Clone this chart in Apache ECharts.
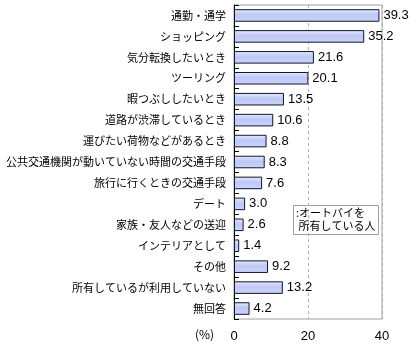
<!DOCTYPE html>
<html>
<head>
<meta charset="utf-8">
<script src="https://cdn.jsdelivr.net/npm/echarts@6/dist/echarts.min.js"></script>
<style>
  html, body { margin: 0; padding: 0; background: #fff; }
  #chart { width: 410px; height: 350px; }
</style>
</head>
<body>
<div id="chart"></div>
<script>
// Uses of motorcycles among owners (%)
const categories = [
  '通勤・通学',
  'ショッピング',
  '気分転換したいとき',
  'ツーリング',
  '暇つぶししたいとき',
  '道路が渋滞しているとき',
  '運びたい荷物などがあるとき',
  '公共交通機関が動いていない時間の交通手段',
  '旅行に行くときの交通手段',
  'デート',
  '家族・友人などの送迎',
  'インテリアとして',
  'その他',
  '所有しているが利用していない',
  '無回答'
];
const values = [39.3, 35.2, 21.6, 20.1, 13.5, 10.6, 8.8, 8.3, 7.6, 3.0, 2.6, 1.4, 9.2, 13.2, 4.2];
const xTicks = [0, 20, 40];
const unitLabel = '(%)';
const legendText = ':オートバイを\n 所有している人';

const jpFont = '"Noto Sans CJK JP", sans-serif';
const numFont = '"Liberation Sans", Arial, sans-serif';

const chart = echarts.init(document.getElementById('chart'));
chart.setOption({
  animation: false,
  grid: {
    left: 234, right: 28, top: 5, bottom: 31,
    show: true, borderColor: '#a0a0a0', borderWidth: 1
  },
  xAxis: {
    type: 'value',
    min: xTicks[0],
    max: xTicks[xTicks.length - 1],
    interval: xTicks[1] - xTicks[0],
    axisLine: { show: false },
    axisTick: { show: false },
    axisLabel: {
      color: '#000', fontFamily: numFont, fontSize: 13, margin: 11,
      formatter: v => xTicks.includes(v) ? String(v) : ''
    },
    splitLine: { show: true, lineStyle: { color: '#b0b0b0', type: [3, 3], width: 1 } }
  },
  yAxis: {
    type: 'category',
    data: categories,
    inverse: true,
    axisLine: { show: true, lineStyle: { color: '#000', width: 1 } },
    axisTick: { show: true, inside: true, length: 5, lineStyle: { color: '#000' } },
    axisLabel: { color: '#000', fontFamily: jpFont, fontSize: 11, margin: 8 }
  },
  series: [{
    type: 'bar',
    data: values,
    barWidth: '60%',
    itemStyle: {
      borderColor: '#14142e',
      borderWidth: 1,
      color: new echarts.graphic.LinearGradient(0, 0, 0, 1, [
        { offset: 0, color: '#e4eafd' },
        { offset: 0.45, color: '#bdc8f5' },
        { offset: 1, color: '#ccd5f9' }
      ])
    },
    label: {
      show: true, position: 'right', distance: 4,
      color: '#000', fontFamily: numFont, fontSize: 13,
      formatter: p => p.value.toFixed(1)
    }
  }],
  graphic: [
    {
      type: 'text', left: 195, top: 328,
      style: { text: unitLabel, fill: '#000', font: '12px ' + jpFont }
    },
    {
      type: 'rect', left: 293, top: 205,
      shape: { width: 85, height: 29 },
      style: { fill: '#fff', stroke: '#a0a0a0', lineWidth: 1 }
    },
    {
      type: 'text', left: 296, top: 206,
      style: { text: legendText, fill: '#000', font: '11px ' + jpFont, lineHeight: 13 }
    }
  ]
});
</script>
</body>
</html>
